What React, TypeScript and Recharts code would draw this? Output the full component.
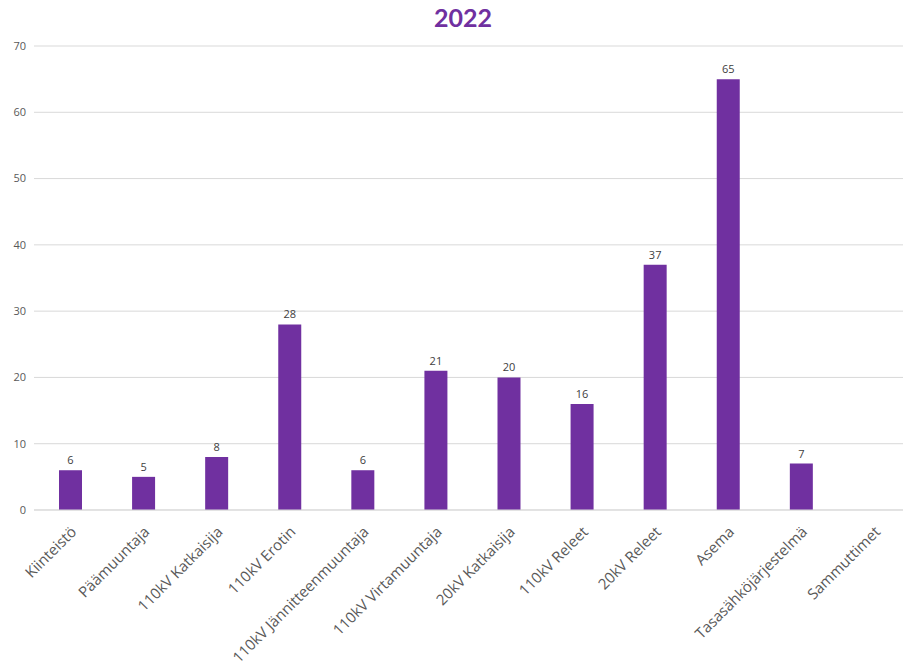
import React from 'react';
import { Bar, BarChart, CartesianGrid, LabelList, XAxis, YAxis } from 'recharts';

const categories = [
  'Kiinteistö',
  'Päämuuntaja',
  '110kV Katkaisija',
  '110kV Erotin',
  '110kV Jännitteenmuuntaja',
  '110kV Virtamuuntaja',
  '20kV Katkaisija',
  '110kV Releet',
  '20kV Releet',
  'Asema',
  'Tasasähköjärjestelmä',
  'Sammuttimet',
];
const counts: (number | null)[] = [6, 5, 8, 28, 6, 21, 20, 16, 37, 65, 7, null];
const yTicks = [0, 10, 20, 30, 40, 50, 60, 70];

const data = categories.map((name, i) => ({ name, value: counts[i] }));

const PURPLE = '#7030A0';
const FONT = '"Open Sans", sans-serif';

const RotatedTick = (props: any) => {
  const { x, y, payload } = props;
  return (
    <g transform={`translate(${x + 4},${y + 12})`}>
      <text
        transform="rotate(-45)"
        textAnchor="end"
        dominantBaseline="middle"
        fill="#595959"
        fontSize={15}
        fontFamily={FONT}
      >
        {payload.value}
      </text>
    </g>
  );
};

export default function App() {
  return (
    <div
      style={{
        position: 'absolute',
        left: 0,
        top: 0,
        width: 903,
        height: 668,
        overflow: 'hidden',
        background: '#fff',
      }}
    >
      <div
        style={{
          position: 'absolute',
          top: 2,
          left: 0,
          width: 926,
          textAlign: 'center',
          fontFamily: 'Lato, sans-serif',
          fontWeight: 700,
          fontSize: 25,
          color: PURPLE,
        }}
      >
        2022
      </div>
      <BarChart
        width={911}
        height={668}
        data={data}
        margin={{ top: 46, right: 0, bottom: 0, left: 0 }}
      >
        <CartesianGrid vertical={false} stroke="#D9D9D9" />
        <XAxis
          dataKey="name"
          interval={0}
          height={158}
          tickLine={false}
          axisLine={{ stroke: '#D9D9D9' }}
          tick={<RotatedTick />}
        />
        <YAxis
          domain={[0, 70]}
          ticks={yTicks}
          width={34}
          tickLine={false}
          axisLine={false}
          tick={{ fill: '#595959', fontSize: 11, fontFamily: FONT }}
        />
        <Bar dataKey="value" fill={PURPLE} barSize={23} isAnimationActive={false}>
          <LabelList dataKey="value" position="top" offset={6} fill="#404040" fontSize={11} fontFamily={FONT} />
        </Bar>
      </BarChart>
    </div>
  );
}
